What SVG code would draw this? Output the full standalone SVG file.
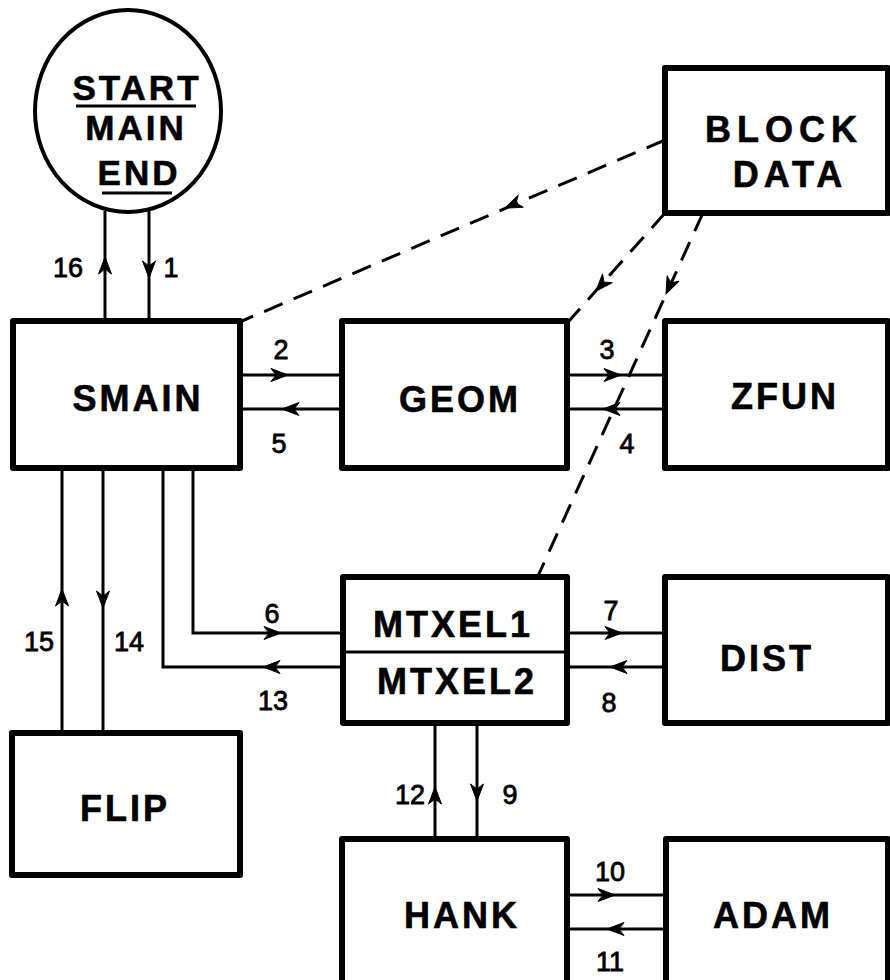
<svg xmlns="http://www.w3.org/2000/svg" xmlns:xlink="http://www.w3.org/1999/xlink" width="890" height="980" viewBox="0 0 890 980">
<style>
.box{fill:#fff;stroke:#000;stroke-width:6;stroke-linejoin:round}
.lbl{font-family:"Liberation Sans",Arial,sans-serif;font-weight:bold;font-size:36px;fill:#000;stroke:#000;stroke-width:0.6;text-anchor:middle;letter-spacing:3px}
.num{font-family:"Liberation Sans",Arial,sans-serif;font-size:27px;fill:#000;stroke:#000;stroke-width:0.8;text-anchor:middle}
.ln{fill:none;stroke:#000;stroke-width:3}
.dash{fill:none;stroke:#000;stroke-width:3;stroke-dasharray:20 12}
.ul{stroke:#000;stroke-width:3}
</style>
<defs>
<path id="ah" d="M0,0 L-17,-6.5 L-12,0 L-17,6.5 Z" fill="#000" stroke="#000" stroke-width="1" stroke-linejoin="round"/>
</defs>
<rect width="890" height="980" fill="#fff"/>

<g id="connectors">
  <line class="ln" x1="105" y1="211" x2="105" y2="321"/>
  <use xlink:href="#ah" transform="translate(105,257) rotate(-90)"/>
  <line class="ln" x1="149" y1="211" x2="149" y2="321"/>
  <use xlink:href="#ah" transform="translate(149,278) rotate(90)"/>
  <line class="ln" x1="240" y1="375" x2="342" y2="375"/>
  <use xlink:href="#ah" transform="translate(288,375)"/>
  <line class="ln" x1="240" y1="409" x2="342" y2="409"/>
  <use xlink:href="#ah" transform="translate(282,409) rotate(180)"/>
  <line class="ln" x1="567" y1="375" x2="665" y2="375"/>
  <use xlink:href="#ah" transform="translate(621,375)"/>
  <line class="ln" x1="567" y1="409" x2="665" y2="409"/>
  <use xlink:href="#ah" transform="translate(603,409) rotate(180)"/>
  <path class="ln" d="M193,468 V633 H343"/>
  <use xlink:href="#ah" transform="translate(281,633)"/>
  <path class="ln" d="M343,667 H163 V468"/>
  <use xlink:href="#ah" transform="translate(263,667) rotate(180)"/>
  <line class="ln" x1="567" y1="633" x2="665" y2="633"/>
  <use xlink:href="#ah" transform="translate(622,633)"/>
  <line class="ln" x1="567" y1="667" x2="665" y2="667"/>
  <use xlink:href="#ah" transform="translate(610,667) rotate(180)"/>
  <line class="ln" x1="435" y1="723" x2="435" y2="839"/>
  <use xlink:href="#ah" transform="translate(435,787) rotate(-90)"/>
  <line class="ln" x1="477" y1="723" x2="477" y2="839"/>
  <use xlink:href="#ah" transform="translate(477,801) rotate(90)"/>
  <line class="ln" x1="567" y1="895" x2="666" y2="895"/>
  <use xlink:href="#ah" transform="translate(615,895)"/>
  <line class="ln" x1="567" y1="929" x2="666" y2="929"/>
  <use xlink:href="#ah" transform="translate(607,929) rotate(180)"/>
  <line class="ln" x1="62" y1="468" x2="62" y2="733"/>
  <use xlink:href="#ah" transform="translate(62,589) rotate(-90)"/>
  <line class="ln" x1="103" y1="468" x2="103" y2="733"/>
  <use xlink:href="#ah" transform="translate(103,608) rotate(90)"/>
  <line class="dash" x1="665" y1="140" x2="242" y2="321"/>
  <use xlink:href="#ah" transform="translate(505,208) rotate(156.8)"/>
  <line class="dash" x1="665" y1="213" x2="569" y2="321"/>
  <use xlink:href="#ah" transform="translate(596,291) rotate(131.9)"/>
  <line class="dash" x1="703" y1="213" x2="538" y2="576"/>
  <use xlink:href="#ah" transform="translate(666,294) rotate(114.5)"/>
  <text class="num" x="68" y="277">16</text>
  <text class="num" x="171" y="277">1</text>
  <text class="num" x="281" y="359">2</text>
  <text class="num" x="279" y="453">5</text>
  <text class="num" x="607" y="359">3</text>
  <text class="num" x="627" y="453">4</text>
  <text class="num" x="272" y="623">6</text>
  <text class="num" x="273" y="710">13</text>
  <text class="num" x="611" y="620">7</text>
  <text class="num" x="609" y="712">8</text>
  <text class="num" x="410" y="804">12</text>
  <text class="num" x="510" y="804">9</text>
  <text class="num" x="610" y="881">10</text>
  <text class="num" x="610" y="971">11</text>
  <text class="num" x="39" y="651">15</text>
  <text class="num" x="129" y="651">14</text>
</g>

<g id="start">
  <ellipse cx="128" cy="111" rx="93" ry="101" fill="#fff" stroke="#000" stroke-width="4"/>
  <text class="lbl" x="137" y="100" style="font-size:35px">START</text>
  <line class="ul" x1="76" y1="106" x2="196" y2="106"/>
  <text class="lbl" x="136" y="140" style="font-size:35px">MAIN</text>
  <text class="lbl" x="139" y="185" style="font-size:35px">END</text>
  <line class="ul" x1="102" y1="193" x2="172" y2="193"/>
</g>

<g id="smain">
  <rect class="box" x="13" y="321" width="227" height="147"/>
  <text class="lbl" x="138" y="411">SMAIN</text>
</g>

<g id="geom">
  <rect class="box" x="342" y="321" width="225" height="147"/>
  <text class="lbl" x="460" y="412">GEOM</text>
</g>

<g id="zfun">
  <rect class="box" x="665" y="321" width="223" height="147"/>
  <text class="lbl" x="785" y="409">ZFUN</text>
</g>

<g id="blockdata">
  <rect class="box" x="665" y="68" width="223" height="145"/>
  <text class="lbl" x="784" y="142" style="letter-spacing:6px">BLOCK</text>
  <text class="lbl" x="790" y="187" style="letter-spacing:5px">DATA</text>
</g>

<g id="mtxel">
  <rect class="box" x="343" y="577" width="224" height="146"/>
  <line x1="343" y1="652" x2="567" y2="652" stroke="#000" stroke-width="3"/>
  <text class="lbl" x="453" y="637">MTXEL1</text>
  <text class="lbl" x="457" y="694">MTXEL2</text>
</g>

<g id="dist">
  <rect class="box" x="665" y="577" width="223" height="146"/>
  <text class="lbl" x="767" y="671">DIST</text>
</g>

<g id="flip">
  <rect class="box" x="12" y="733" width="228" height="142"/>
  <text class="lbl" x="125" y="821">FLIP</text>
</g>

<g id="hank">
  <rect class="box" x="342" y="839" width="225" height="150"/>
  <text class="lbl" x="462" y="928">HANK</text>
</g>

<g id="adam">
  <rect class="box" x="666" y="839" width="222" height="150"/>
  <text class="lbl" x="773" y="928">ADAM</text>
</g>
</svg>
